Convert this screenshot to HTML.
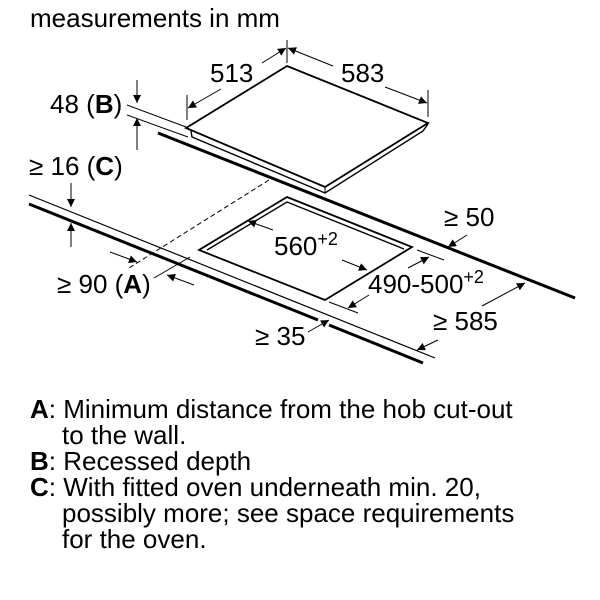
<!DOCTYPE html>
<html><head><meta charset="utf-8"><style>
html,body{margin:0;padding:0;background:#fff;}
svg{display:block;}
text{font-family:"Liberation Sans",Arial,sans-serif;fill:#000;}
</style></head><body>
<svg width="600" height="600" viewBox="0 0 600 600" xmlns="http://www.w3.org/2000/svg">
<defs>
<marker id="ah" viewBox="0 0 10 10" refX="10" refY="5" markerWidth="12" markerHeight="8" orient="auto" markerUnits="userSpaceOnUse">
<path d="M0,0 L10,5 L0,10 z" fill="#000"/></marker>
</defs>
<text x="30" y="27" font-size="26">measurements in mm</text>
<g stroke="#000" fill="none" stroke-width="1">
<polygon points="287,66 428,123 325,187 186,128" fill="#fff" stroke-width="1.8"/>
<polyline points="191,131 192,137 325,193 423,131 428,124" stroke-width="1.4"/>
<line x1="325" y1="187" x2="325" y2="193"/>
<line x1="158" y1="133" x2="575" y2="298" stroke-width="3"/>
<line x1="127" y1="105" x2="186" y2="127"/>
<line x1="127" y1="115" x2="188" y2="137"/>
<line x1="137" y1="80" x2="137" y2="103" marker-end="url(#ah)"/>
<line x1="137" y1="150" x2="137" y2="118" marker-end="url(#ah)"/>
<line x1="29" y1="195" x2="435" y2="358" stroke-width="1.2"/>
<line x1="29" y1="204" x2="318" y2="320" stroke-width="3"/>
<line x1="329" y1="325" x2="423" y2="363" stroke-width="3"/>
<line x1="71" y1="183" x2="71" y2="207" marker-end="url(#ah)"/>
<line x1="71" y1="247" x2="71" y2="223" marker-end="url(#ah)"/>
<polygon points="287,197 412,247 325,300 199,250" stroke-width="1.8"/>
<polyline points="207,250 287,202 404,249" stroke-width="1.4"/>
<line x1="269" y1="180" x2="129" y2="268" stroke-dasharray="5,3"/>
<line x1="187" y1="95" x2="187" y2="120"/>
<line x1="287" y1="40" x2="287" y2="63"/>
<line x1="262" y1="63" x2="286" y2="48" marker-end="url(#ah)"/>
<line x1="221" y1="89" x2="188" y2="108" marker-end="url(#ah)"/>
<line x1="333" y1="66" x2="288" y2="48" marker-end="url(#ah)"/>
<line x1="385" y1="87" x2="427" y2="103" marker-end="url(#ah)"/>
<line x1="428" y1="90" x2="428" y2="117"/>
<line x1="273" y1="230" x2="248" y2="221" marker-end="url(#ah)"/>
<line x1="342" y1="260" x2="367" y2="270" marker-end="url(#ah)"/>
<line x1="417" y1="250" x2="444" y2="260"/>
<line x1="329" y1="302" x2="358" y2="313"/>
<line x1="408" y1="268" x2="429" y2="257" marker-end="url(#ah)"/>
<line x1="369" y1="295" x2="348" y2="308" marker-end="url(#ah)"/>
<line x1="467" y1="235" x2="448" y2="247" marker-end="url(#ah)"/>
<line x1="482" y1="306" x2="525" y2="283" marker-end="url(#ah)"/>
<line x1="438" y1="340" x2="417" y2="350" marker-end="url(#ah)"/>
<line x1="308" y1="332" x2="329" y2="320" marker-end="url(#ah)"/>
<line x1="110" y1="252" x2="137" y2="262" marker-end="url(#ah)"/>
<line x1="154" y1="278" x2="190" y2="257"/>
<line x1="194" y1="285" x2="167" y2="275" marker-end="url(#ah)"/>
</g>
<g font-size="26">
<text x="210" y="82">513</text>
<text x="341" y="82">583</text>
<text x="50" y="113">48 (<tspan font-weight="bold">B</tspan>)</text>
<text x="29" y="175">≥ 16 (<tspan font-weight="bold">C</tspan>)</text>
<text x="274" y="255">560<tspan font-size="18" dy="-10">+2</tspan></text>
<text x="444" y="226">≥ 50</text>
<text x="368" y="293">490-500<tspan font-size="18" dy="-10">+2</tspan></text>
<text x="57" y="293">≥ 90 (<tspan font-weight="bold">A</tspan>)</text>
<text x="433" y="330">≥ 585</text>
<text x="255" y="345">≥ 35</text>
</g>
<g font-size="26">
<text x="30" y="418"><tspan font-weight="bold">A</tspan>: Minimum distance from the hob cut-out</text>
<text x="62" y="444">to the wall.</text>
<text x="30" y="470"><tspan font-weight="bold">B</tspan>: Recessed depth</text>
<text x="30" y="496"><tspan font-weight="bold">C</tspan>: With fitted oven underneath min. 20,</text>
<text x="62" y="522">possibly more; see space requirements</text>
<text x="62" y="548">for the oven.</text>
</g>
</svg>
</body></html>
